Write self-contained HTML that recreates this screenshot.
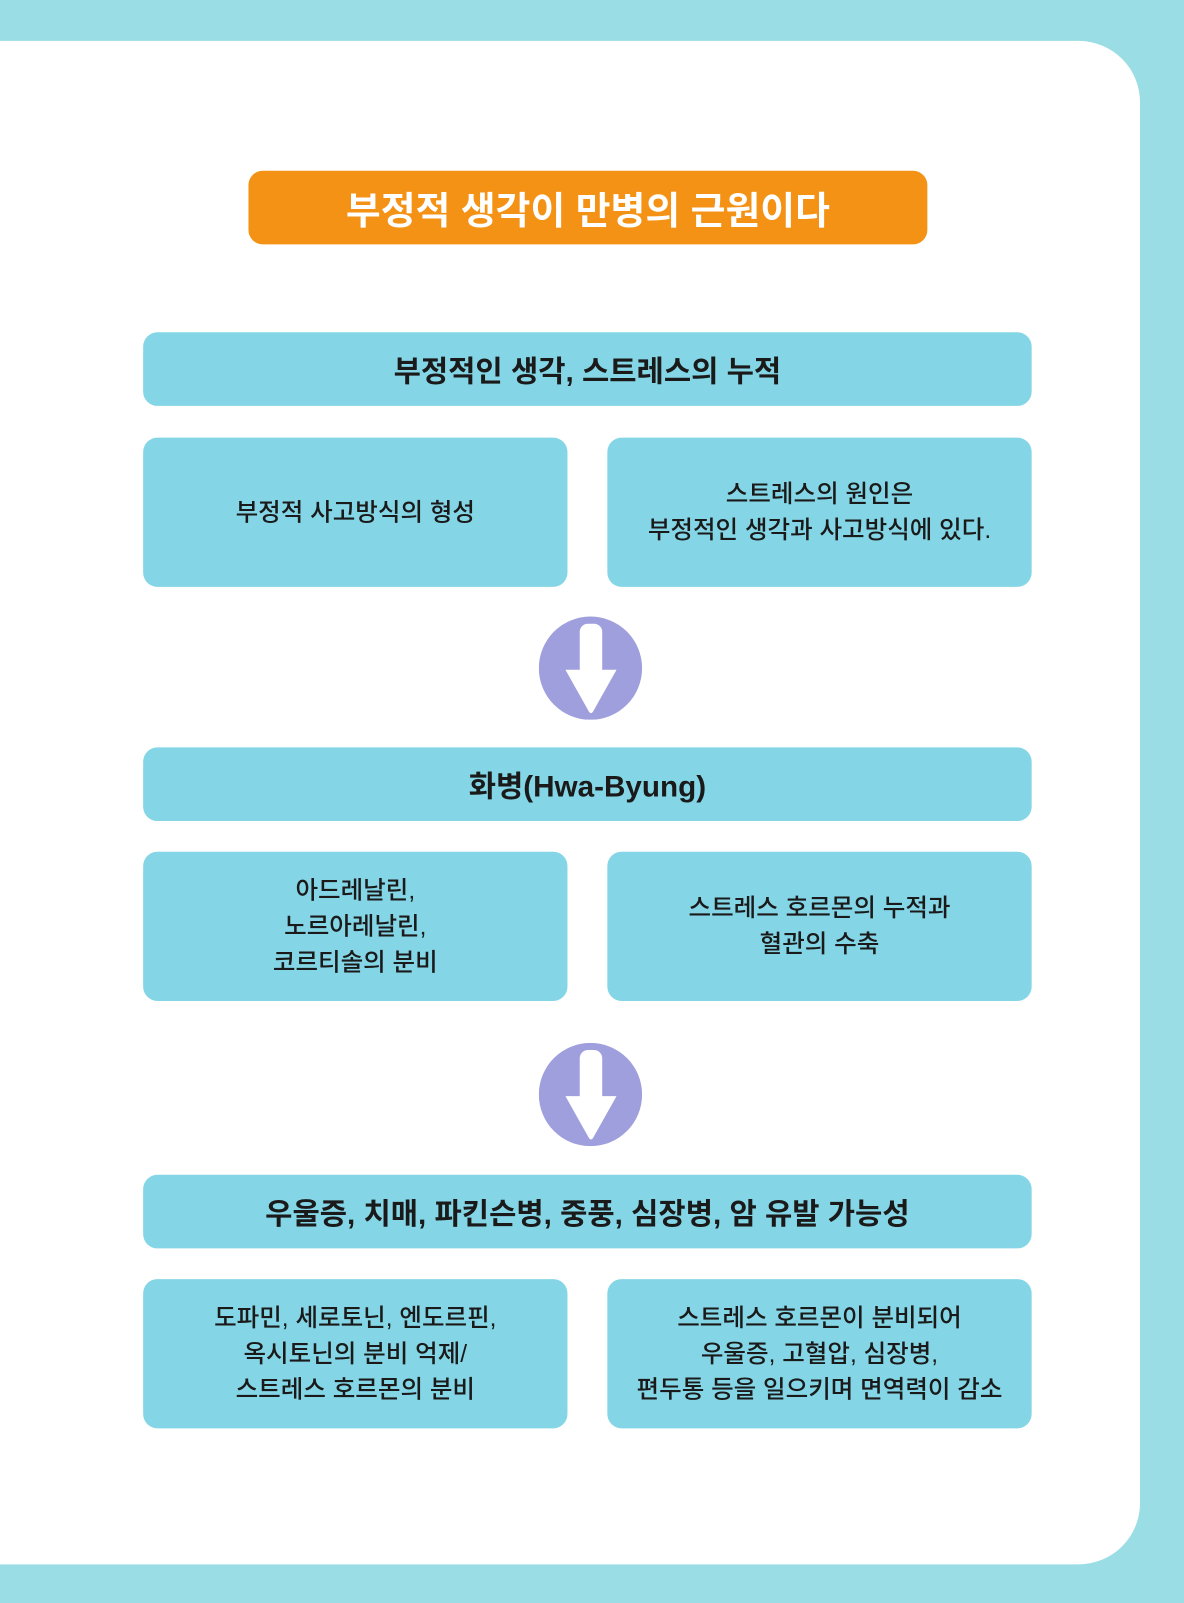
<!DOCTYPE html>
<html><head><meta charset="utf-8"><style>
html,body{margin:0;padding:0;}
body{width:1184px;height:1603px;overflow:hidden;background:#9adde5;position:relative;}
#w{position:absolute;left:0;top:0;width:1158px;height:1568px;transform:scale(1.02245);transform-origin:0 0;font-family:"Liberation Sans","Noto Sans CJK KR",sans-serif;}
.panel{position:absolute;left:0;top:40px;width:1115px;height:1490px;background:#fff;border-radius:0 60px 60px 0;}
.b{position:absolute;background:#84d6e6;border-radius:14px;display:flex;align-items:center;justify-content:center;text-align:center;color:#1a1a1a;}
.bar{left:140px;width:869px;height:72px;font-size:29px;font-weight:bold;}
.box{width:415px;height:146px;font-size:24px;line-height:35px;font-weight:500;}
.l{left:140px}.r{left:594px}
.title{position:absolute;left:243px;top:167px;width:664px;height:72px;background:#f39214;border-radius:14px;color:#fff;font-size:37px;font-weight:bold;display:flex;align-items:center;justify-content:center;}
svg{position:absolute;}
</style></head><body><div id="w">
<div class="panel"></div>
<div class="title">부정적 생각이 만병의 근원이다</div>
<div class="b bar" style="top:325px">부정적인 생각, 스트레스의 누적</div>
<div class="b box l" style="top:428px">부정적 사고방식의 형성</div>
<div class="b box r" style="top:428px">스트레스의 원인은<br>부정적인 생각과 사고방식에 있다.</div>
<svg style="left:527px;top:603px" width="101" height="101" viewBox="0 0 101 101"><circle cx="50.5" cy="50.5" r="50.5" fill="#9f9fdd"/><rect x="40" y="7" width="22" height="52" rx="8" fill="#fff"/><path d="M26 52 L76 52 L53 93 Q51 96 49 93 Z" fill="#fff"/></svg>
<div class="b bar" style="top:731px">화병(Hwa-Byung)</div>
<div class="b box l" style="top:833px">아드레날린,<br>노르아레날린,<br>코르티솔의 분비</div>
<div class="b box r" style="top:833px">스트레스 호르몬의 누적과<br>혈관의 수축</div>
<svg style="left:527px;top:1020px" width="101" height="101" viewBox="0 0 101 101"><circle cx="50.5" cy="50.5" r="50.5" fill="#9f9fdd"/><rect x="40" y="7" width="22" height="52" rx="8" fill="#fff"/><path d="M26 52 L76 52 L53 93 Q51 96 49 93 Z" fill="#fff"/></svg>
<div class="b bar" style="top:1149px">우울증, 치매, 파킨슨병, 중풍, 심장병, 암 유발 가능성</div>
<div class="b box l" style="top:1251px">도파민, 세로토닌, 엔도르핀,<br>옥시토닌의 분비 억제/<br>스트레스 호르몬의 분비</div>
<div class="b box r" style="top:1251px">스트레스 호르몬이 분비되어<br>우울증, 고혈압, 심장병,<br>편두통 등을 일으키며 면역력이 감소</div>
</div></body></html>
